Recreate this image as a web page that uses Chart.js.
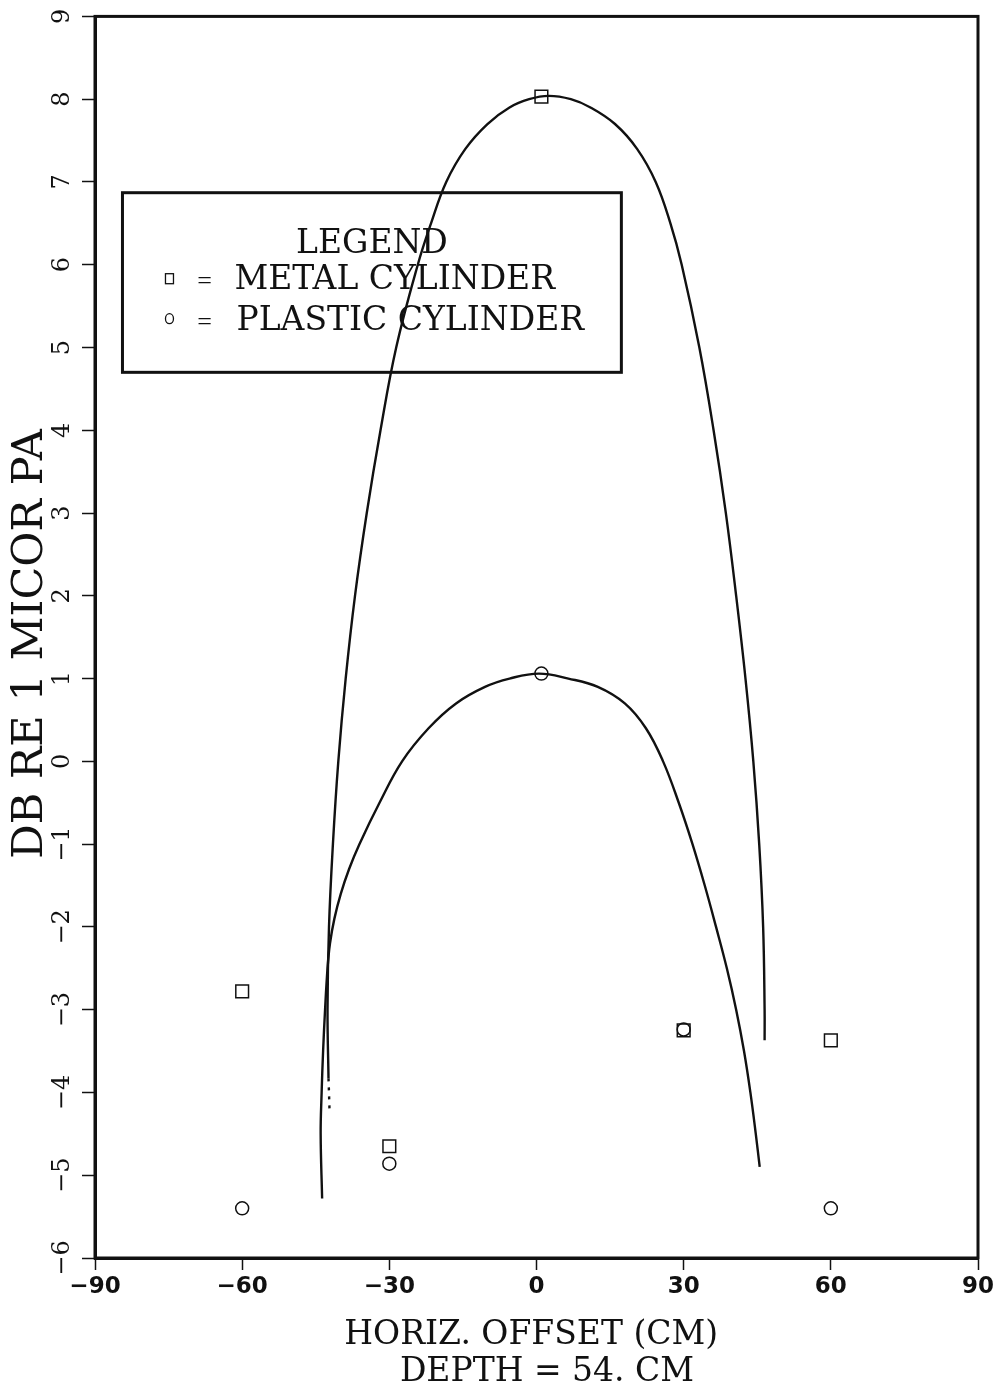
<!DOCTYPE html>
<html>
<head>
<meta charset="utf-8">
<title>Horizontal offset response</title>
<script src="https://cdn.jsdelivr.net/npm/chart.js@4/dist/chart.umd.min.js"></script>
<style>
  html, body { margin: 0; padding: 0; background: #ffffff; }
  canvas { display: block; }
</style>
</head>
<body>
<canvas id="chart" width="1000" height="1391"></canvas>
<script>
// Axis ticks
const xTickValues = [-90, -60, -30, 0, 30, 60, 90];
const yTickValues = [-6, -5, -4, -3, -2, -1, 0, 1, 2, 3, 4, 5, 6, 7, 8, 9];

// Measured levels (dB re 1 µPa) at each horizontal offset (cm)
const metalOffset   = [-60, -30, 1, 30, 60];
const metalLevel    = [-2.78, -4.65, 8.03, -3.25, -3.37];
const plasticOffset = [-60, -30, 1, 30, 60];
const plasticLevel  = [-5.40, -4.86, 1.06, -3.24, -5.40];

// Fitted curve, metal cylinder
const metalFitX = [-42.4, -42.6, -42.3, -41.5, -40.4, -38.9, -37.0, -34.6, -31.8, -28.6, -24.2, -21.5, -18.4, -14.5, -10.0, -5.5, -1.5, 2.5, 7.0, 11.0, 16.0, 20.5, 24.3, 27.3, 29.6, 33.2, 36.1, 38.6, 40.7, 42.6, 44.2, 45.4, 46.2, 46.5, 46.5];
const metalFitY = [-3.83, -3.00, -2.00, -1.00, 0.00, 1.00, 2.00, 3.00, 4.00, 5.00, 6.00, 6.50, 7.00, 7.40, 7.70, 7.90, 8.00, 8.04, 8.00, 7.90, 7.70, 7.40, 7.00, 6.50, 6.00, 5.00, 4.00, 3.00, 2.00, 1.00, 0.00, -1.00, -2.00, -3.00, -3.37];
// Broken tail at the lower left end of the metal curve
const metalTailX = [-42.4, -42.3, -42.2];
const metalTailY = [-3.83, -4.00, -4.20];

// Fitted curve, plastic cylinder
const plasticFitX = [-43.7, -44.0, -43.8, -43.5, -43.1, -42.6, -42.1, -41.2, -39.9, -38.2, -36.1, -32.0, -27.4, -22.0, -16.4, -10.5, -5.5, 0.5, 6.5, 12.5, 18.0, 22.3, 25.8, 29.0, 31.8, 34.3, 36.6, 38.8, 40.7, 42.3, 43.6, 44.7, 45.5];
const plasticFitY = [-5.28, -4.50, -4.00, -3.50, -3.00, -2.50, -2.20, -1.90, -1.60, -1.30, -1.00, -0.50, 0.00, 0.40, 0.70, 0.90, 1.00, 1.06, 1.00, 0.90, 0.70, 0.40, 0.00, -0.50, -1.00, -1.50, -2.00, -2.50, -3.00, -3.50, -4.00, -4.50, -4.90];

const legendTitle = 'LEGEND';
const metalLabel = 'METAL CYLINDER';
const plasticLabel = 'PLASTIC CYLINDER';

const pairs = (xs, ys) => xs.map((v, i) => ({ x: v, y: ys[i] }));
const minus = v => String(v).replace('-', '\u2212');

const INK = '#111111';
const SERIF = '"DejaVu Serif", "Liberation Serif", serif';

// Frame around the plotting area and the boxed legend
const framePlugin = {
  id: 'frameAndLegend',
  beforeDatasetsDraw(chart) {
    const { ctx, scales: { x, y } } = chart;
    const box = { x0: -84.4, x1: 17.3, y0: 6.87, y1: 4.70 };
    const L = x.getPixelForValue(box.x0), R = x.getPixelForValue(box.x1);
    const T = y.getPixelForValue(box.y0), B = y.getPixelForValue(box.y1);
    ctx.save();
    ctx.strokeStyle = INK;
    ctx.lineWidth = 3;
    ctx.strokeRect(L, T, R - L, B - T);
    ctx.fillStyle = INK;
    ctx.font = '33px ' + SERIF;
    ctx.textBaseline = 'alphabetic';
    ctx.textAlign = 'center';
    ctx.fillText(legendTitle, (L + R) / 2, T + 60);
    ctx.textAlign = 'left';
    ctx.fillText(metalLabel, L + 112, T + 96);
    ctx.fillText(plasticLabel, L + 114, T + 137);
    ctx.font = '26px "Liberation Serif", serif';
    ctx.textAlign = 'center';
    ctx.fillText('=', L + 82, T + 96);
    ctx.fillText('=', L + 82, T + 137);
    // legend symbols
    ctx.lineWidth = 1.3;
    ctx.strokeRect(L + 43, T + 81, 8, 10);
    ctx.beginPath();
    ctx.ellipse(L + 47, T + 126, 4, 5, 0, 0, Math.PI * 2);
    ctx.stroke();
    ctx.restore();
  },
  afterDraw(chart) {
    const { ctx, chartArea: a } = chart;
    ctx.save();
    ctx.strokeStyle = INK;
    ctx.lineWidth = 3;
    ctx.strokeRect(a.left, a.top, a.right - a.left, a.bottom - a.top);
    ctx.restore();
  }
};

const curveStyle = {
  showLine: true,
  pointRadius: 0,
  pointHoverRadius: 0,
  borderColor: INK,
  borderWidth: 2.4,
  tension: 0.4,
  fill: false
};

new Chart(document.getElementById('chart'), {
  type: 'scatter',
  data: {
    datasets: [
      Object.assign({ label: 'Metal fit', data: pairs(metalFitX, metalFitY) }, curveStyle),
      Object.assign({ label: 'Metal fit tail', data: pairs(metalTailX, metalTailY), borderDash: [3, 6] }, curveStyle, { tension: 0 }),
      Object.assign({ label: 'Plastic fit', data: pairs(plasticFitX, plasticFitY) }, curveStyle),
      {
        label: metalLabel,
        data: pairs(metalOffset, metalLevel),
        pointStyle: 'rect',
        pointRadius: 9,
        pointBackgroundColor: 'rgba(255,255,255,0)',
        pointBorderColor: INK,
        pointBorderWidth: 1.5,
        showLine: false
      },
      {
        label: plasticLabel,
        data: pairs(plasticOffset, plasticLevel),
        pointStyle: 'circle',
        pointRadius: 6.5,
        pointBackgroundColor: 'rgba(255,255,255,0)',
        pointBorderColor: INK,
        pointBorderWidth: 1.5,
        showLine: false
      }
    ]
  },
  options: {
    responsive: false,
    animation: false,
    devicePixelRatio: 1,
    layout: { padding: { top: 16, right: 22, bottom: 0, left: 0 } },
    plugins: { legend: { display: false }, tooltip: { enabled: false } },
    scales: {
      x: {
        type: 'linear',
        position: 'bottom',
        min: -90, max: 90,
        afterBuildTicks: s => { s.ticks = xTickValues.map(v => ({ value: v })); },
        afterFit: s => { s.height = 133; },
        grid: { display: true, drawOnChartArea: false, drawTicks: true, tickLength: 12, color: INK, tickWidth: 1.5 },
        border: { display: true, color: INK, width: 3 },
        ticks: {
          color: INK,
          padding: 3,
          maxRotation: 0,
          font: { family: '"DejaVu Sans", "Liberation Sans", sans-serif', size: 23, weight: 'bold' },
          callback: v => minus(v)
        },
        title: {
          display: true,
          text: ['HORIZ. OFFSET (CM) ', '  DEPTH = 54. CM'],
          color: INK,
          font: { family: SERIF, size: 33, lineHeight: 1.12 },
          padding: { top: 0, bottom: 0 }
        }
      },
      y: {
        type: 'linear',
        position: 'left',
        min: -6, max: 9,
        afterBuildTicks: s => { s.ticks = yTickValues.map(v => ({ value: v })); },
        afterFit: s => { s.width = 95; },
        grid: { display: true, drawOnChartArea: false, drawTicks: true, tickLength: 13, color: INK, tickWidth: 1.5 },
        border: { display: true, color: INK, width: 3 },
        ticks: {
          color: INK,
          padding: 2,
          minRotation: 90,
          maxRotation: 90,
          crossAlign: 'center',
          font: { family: SERIF, size: 24 },
          callback: v => minus(v)
        },
        title: {
          display: true,
          text: 'DB RE 1 MICOR PA ',
          color: INK,
          font: { family: SERIF, size: 43, lineHeight: 1.0 },
          padding: { top: 9, bottom: 0 }
        }
      }
    }
  },
  plugins: [framePlugin]
});
</script>
</body>
</html>
